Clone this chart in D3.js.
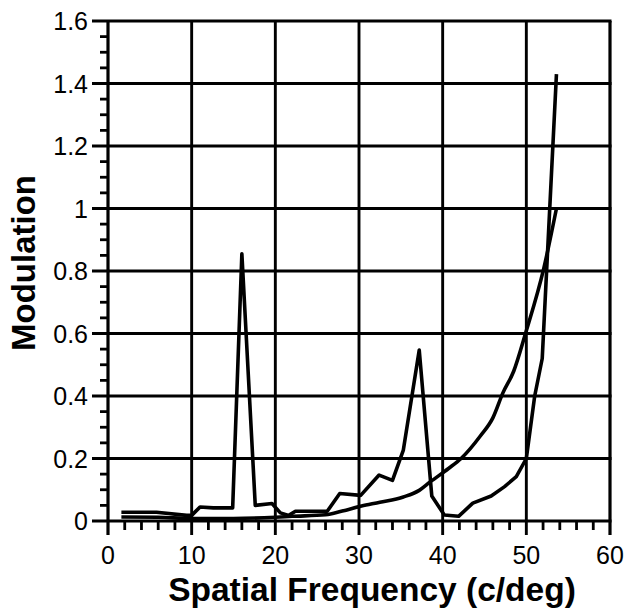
<!DOCTYPE html>
<html>
<head>
<meta charset="utf-8">
<script src="https://cdn.jsdelivr.net/npm/d3@7"></script>
<style>
  html, body { margin: 0; padding: 0; background: #fff; }
  svg { display: block; }
  text { font-family: "Liberation Sans", Arial, Helvetica, sans-serif; fill: #000; }
</style>
</head>
<body>
<svg id="chart" width="631" height="612"></svg>
<script>
// ---- data ----
const seriesAFreq = [1.6, 5.8, 9.4, 10, 11, 12.6, 14.9, 16, 17.6, 19.6, 20.6, 21.6, 22.4, 26.2, 27.7, 30.2, 32.4, 34, 35.3, 37.2, 38.7, 40.2, 41.9, 43.6, 45.8, 47.4, 48.8, 50, 51, 51.9, 53.6];
const seriesAMod  = [0.028, 0.028, 0.018, 0.018, 0.045, 0.042, 0.042, 0.855, 0.05, 0.056, 0.026, 0.018, 0.031, 0.031, 0.088, 0.082, 0.147, 0.13, 0.227, 0.547, 0.08, 0.019, 0.015, 0.057, 0.08, 0.11, 0.142, 0.2, 0.4, 0.52, 1.43];

const seriesBFreq = [1.6, 6, 10, 15, 20, 22, 26, 28, 30.3, 32.5, 35.3, 37.2, 38.5, 40.7, 42.2, 44.5, 46, 47.2, 48.5, 49.9, 52.1, 53.6];
const seriesBMod  = [0.013, 0.012, 0.008, 0.008, 0.012, 0.015, 0.02, 0.032, 0.048, 0.06, 0.077, 0.098, 0.125, 0.168, 0.2, 0.272, 0.33, 0.41, 0.48, 0.6, 0.81, 1.0];

const xTicks = [0, 10, 20, 30, 40, 50, 60];
const yTicks = [0, 0.2, 0.4, 0.6, 0.8, 1, 1.2, 1.4, 1.6];
const xTickLabels = ["0", "10", "20", "30", "40", "50", "60"];
const yTickLabels = ["0", "0.2", "0.4", "0.6", "0.8", "1", "1.2", "1.4", "1.6"];
const xTitle = "Spatial Frequency (c/deg)";
const yTitle = "Modulation";

// ---- layout ----
const svg = d3.select("#chart");
const pLeft = 108, pRight = 610, pTop = 21, pBottom = 521;

const x = d3.scaleLinear().domain([0, 60]).range([pLeft, pRight]);
const y = d3.scaleLinear().domain([0, 1.6]).range([pBottom, pTop]);

// minor ticks
const xMinor = d3.range(0, 60.001, 2).filter(v => v % 10 !== 0);
const yMinor = d3.range(0, 1.6001, 0.05).filter(v => Math.abs(v / 0.2 - Math.round(v / 0.2)) > 1e-6);

const g = svg.append("g");

// minor ticks x (below axis)
g.selectAll(".xminor").data(xMinor).join("line")
  .attr("x1", d => x(d)).attr("x2", d => x(d))
  .attr("y1", pBottom).attr("y2", pBottom + 9)
  .attr("stroke", "#000").attr("stroke-width", 2.8);

// minor ticks y (left of axis)
g.selectAll(".yminor").data(yMinor).join("line")
  .attr("x1", pLeft - 8).attr("x2", pLeft)
  .attr("y1", d => y(d)).attr("y2", d => y(d))
  .attr("stroke", "#000").attr("stroke-width", 2.8);

// vertical gridlines + major ticks
g.selectAll(".xgrid").data(xTicks).join("line")
  .attr("x1", d => x(d)).attr("x2", d => x(d))
  .attr("y1", pTop).attr("y2", pBottom + 14)
  .attr("stroke", "#000").attr("stroke-width", d => (d === 0 || d === 60) ? 3.2 : 2.9);

// horizontal gridlines + major ticks
g.selectAll(".ygrid").data(yTicks).join("line")
  .attr("x1", pLeft - 16).attr("x2", pRight + 1.5)
  .attr("y1", d => y(d)).attr("y2", d => y(d))
  .attr("stroke", "#000").attr("stroke-width", d => (d === 0 || d === 1.6) ? 3.2 : 2.9);

// tick labels
g.selectAll(".xlab").data(xTicks).join("text")
  .attr("x", d => x(d)).attr("y", pBottom + 43)
  .attr("text-anchor", "middle")
  .attr("font-size", 25)
  .text((d, i) => xTickLabels[i]);

g.selectAll(".ylab").data(yTicks).join("text")
  .attr("x", pLeft - 20).attr("y", d => y(d) + 9)
  .attr("text-anchor", "end")
  .attr("font-size", 25)
  .text((d, i) => yTickLabels[i]);

// axis titles
svg.append("text")
  .attr("x", 372).attr("y", 601)
  .attr("text-anchor", "middle")
  .attr("font-size", 33.5).attr("font-weight", "bold")
  .text(xTitle);

svg.append("text")
  .attr("transform", "translate(35,263) rotate(-90)")
  .attr("text-anchor", "middle")
  .attr("font-size", 33).attr("font-weight", "bold")
  .text(yTitle);

// data lines
const seriesA = seriesAFreq.map((f, i) => [f, seriesAMod[i]]);
const seriesB = seriesBFreq.map((f, i) => [f, seriesBMod[i]]);

const smoothLine = d3.line().x(d => x(d[0])).y(d => y(d[1])).curve(d3.curveMonotoneX);
const straightLine = d3.line().x(d => x(d[0])).y(d => y(d[1]));

svg.append("path").datum(seriesB)
  .attr("d", smoothLine)
  .attr("fill", "none").attr("stroke", "#000").attr("stroke-width", 3.6)
  .attr("stroke-linejoin", "round");

svg.append("path").datum(seriesA)
  .attr("d", straightLine)
  .attr("fill", "none").attr("stroke", "#000").attr("stroke-width", 3.6)
  .attr("stroke-linejoin", "round");
</script>
</body>
</html>
